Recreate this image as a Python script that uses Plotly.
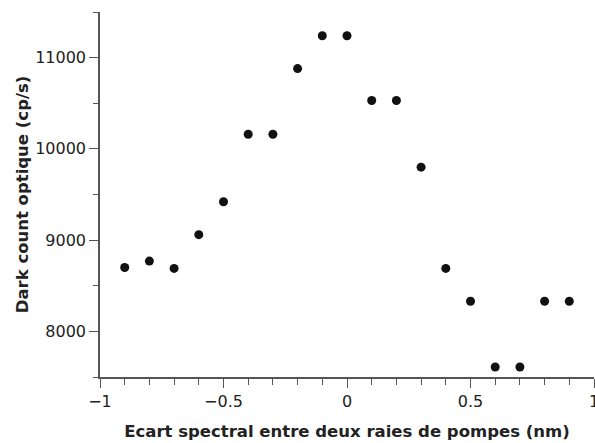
import plotly.graph_objects as go

ecart = [-0.9, -0.8, -0.7, -0.6, -0.5, -0.4, -0.3, -0.2, -0.1, 0.0,
         0.1, 0.2, 0.3, 0.4, 0.5, 0.6, 0.7, 0.8, 0.9]
dark_count = [8700, 8770, 8690, 9060, 9420, 10160, 10160, 10880, 11240, 11240,
              10530, 10530, 9800, 8690, 8330, 7610, 7610, 8330, 8330]

x_tickvals = [-1, -0.5, 0, 0.5, 1]
x_ticktext = ["\u22121", "\u22120.5", "0", "0.5", "1"]
y_tickvals = [8000, 9000, 10000, 11000]
y_ticktext = ["8000", "9000", "10000", "11000"]

x_title = "Ecart spectral entre deux raies de pompes (nm)"
y_title = "Dark count optique (cp/s)"

axis_color = "#555555"
font_family = "DejaVu Sans, Verdana, sans-serif"

fig = go.Figure()
fig.add_trace(go.Scatter(
    x=ecart, y=dark_count, mode="markers",
    marker=dict(color="#111111", size=9),
    showlegend=False,
))

fig.update_layout(
    width=595, height=443,
    margin=dict(l=100, r=1, t=12, b=66),
    paper_bgcolor="white", plot_bgcolor="white",
    font=dict(family=font_family, size=16, color="#222222"),
)
fig.update_xaxes(
    range=[-1, 1], tickmode="array", tickvals=x_tickvals, ticktext=x_ticktext,
    showgrid=False, zeroline=False, automargin=False,
    ticklabeloverflow="allow",
    showline=True, linecolor=axis_color, linewidth=1.5,
    ticks="outside", ticklen=9, tickcolor=axis_color, tickwidth=1,
    minor=dict(dtick=0.1, tick0=0, ticks="outside", ticklen=6, tickcolor=axis_color, showgrid=False),
    title=dict(text="<b>" + x_title + "</b>", font=dict(size=16.5), standoff=15),
)
fig.update_yaxes(
    range=[7500, 11500], tickmode="array", tickvals=y_tickvals, ticktext=y_ticktext,
    showgrid=False, zeroline=False, automargin=False,
    showline=True, linecolor=axis_color, linewidth=1.5,
    ticks="outside", ticklen=9, tickcolor=axis_color, tickwidth=1,
    minor=dict(dtick=500, tick0=0, ticks="outside", ticklen=5, tickcolor=axis_color, showgrid=False),
    title=dict(text="<b>" + y_title + "</b>", font=dict(size=16.5), standoff=2),
)

fig.write_html("out.html", config={"displayModeBar": False},
               post_script="document.body.style.margin='0';document.body.style.padding='0';")
